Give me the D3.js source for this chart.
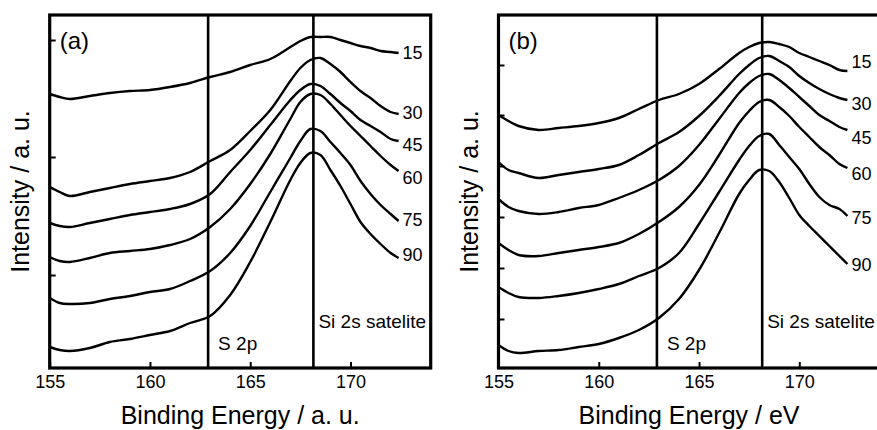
<!DOCTYPE html>
<html>
<head>
<meta charset="utf-8">
<script src="https://cdn.jsdelivr.net/npm/d3@7"></script>
<style>
  body { margin: 0; background: #fff; }
  text { font-family: "Liberation Sans", Arial, sans-serif; fill: #000; }
</style>
</head>
<body>
<script>
// binding energy grid (eV), shared by every spectrum
var energy = [155, 155.5, 156, 157, 158, 159, 160, 161, 162, 163, 164, 165, 166,
              167, 167.5, 168, 168.5, 169, 169.5, 170, 170.5, 171, 171.5, 172, 172.4];

var angles = ["15", "30", "45", "60", "75", "90"];

// panel (a) intensities, offset stacked, a.u.
var a15 = [274, 271, 269, 272, 275, 277, 278, 281, 285, 291, 296, 303, 309, 321, 327, 331, 331, 331, 328, 325, 322, 320, 317, 316, 315];
var a30 = [181, 176, 172, 176, 180, 184, 187, 190, 196, 207, 218, 237, 258, 287, 300, 308, 310, 304, 296, 286, 277, 270, 262, 256, 254];
var a45 = [145, 142, 141, 145, 149, 153, 156, 159, 164, 174, 196, 218, 243, 268, 278, 284, 282, 274, 265, 257, 248, 242, 236, 229, 227];
var a60 = [111, 107, 106, 110, 115, 117, 119, 123, 129, 141, 159, 184, 214, 249, 266, 274, 273, 264, 253, 242, 232, 222, 212, 203, 197];
var a75 = [70, 65, 64, 65, 69, 72, 76, 79, 87, 97, 115, 142, 176, 210, 227, 239, 237, 226, 215, 203, 187, 174, 163, 154, 147];
var a90 = [21, 18, 17, 20, 26, 29, 33, 37, 45, 52, 73, 106, 146, 188, 205, 215, 213, 198, 182, 164, 146, 134, 124, 115, 110];

// panel (b)
var b15 = [253, 247, 242, 238, 240, 242, 245, 250, 259, 268, 274, 284, 299, 315, 321, 325, 326, 324, 321, 315, 311, 307, 303, 298, 297];
var b30 = [206, 198, 195, 190, 193, 196, 199, 203, 213, 225, 236, 252, 272, 294, 303, 310, 312, 307, 301, 292, 285, 279, 274, 270, 268];
var b45 = [169, 161, 157, 154, 156, 160, 163, 170, 178, 188, 202, 223, 249, 275, 285, 292, 294, 288, 280, 271, 262, 253, 247, 241, 238];
var b60 = [125, 118, 113, 112, 115, 118, 121, 125, 134, 146, 161, 183, 213, 245, 257, 266, 268, 261, 252, 241, 231, 221, 213, 204, 200];
var b75 = [81, 75, 71, 70, 72, 75, 79, 84, 92, 100, 115, 144, 176, 208, 222, 232, 234, 223, 211, 199, 184, 171, 163, 159, 152];
var b90 = [23, 17, 15, 17, 18, 21, 24, 30, 38, 50, 69, 98, 135, 174, 188, 198, 197, 186, 170, 153, 142, 132, 122, 112, 104];

// where the angle labels sit (intensity units)
var labelLevelA = [315, 255, 223, 190, 148, 113];
var labelLevelB = [306, 264, 230, 194, 150, 103];

var xTicks = [155, 160, 165, 170];
var yTicksA = [93, 211, 328];
var yTicksB = [49, 100, 151, 202, 253, 303];

var lineS2p = 162.9, lineSi2s = 168.15;

var W = 877, H = 430;
var top_ = 15, bottom_ = 368, plotW = 381;

var svg = d3.select("body").append("svg")
    .attr("width", W)
    .attr("height", H);

function panel(x0, tag, xTitle, series, labelLevel, yTicks) {

    var x = d3.scaleLinear().domain([155, 174]).range([x0, x0 + plotW]);
    var y = d3.scaleLinear().domain([0, 353]).range([bottom_, top_]);

    var g = svg.append("g");

    // ticks (inward)
    var xAxis = d3.axisBottom(x).tickValues(xTicks).tickSizeInner(-6).tickSizeOuter(0).tickPadding(7);
    var gx = g.append("g").attr("transform", "translate(0," + bottom_ + ")").call(xAxis);
    gx.select(".domain").remove();
    gx.selectAll("line").attr("stroke", "#000").attr("stroke-width", 2);
    gx.selectAll("text").style("font-size", "18px").attr("fill", "#000");

    var yAxis = d3.axisLeft(y).tickValues(yTicks).tickSizeInner(-6).tickSizeOuter(0).tickFormat("");
    var gy = g.append("g").attr("transform", "translate(" + x0 + ",0)").call(yAxis);
    gy.select(".domain").remove();
    gy.selectAll("line").attr("stroke", "#000").attr("stroke-width", 2);

    // marker lines
    [lineS2p, lineSi2s].forEach(function(e) {
        g.append("line")
            .attr("x1", x(e)).attr("x2", x(e))
            .attr("y1", top_).attr("y2", bottom_)
            .attr("stroke", "#000").attr("stroke-width", 2.6);
    });

    var line = d3.line()
        .x(function(d, i) { return x(energy[i]); })
        .y(function(d) { return y(d); })
        .curve(d3.curveCatmullRom.alpha(0.5));

    series.forEach(function(s, j) {
        g.append("path")
            .datum(s)
            .attr("d", line)
            .attr("fill", "none")
            .attr("stroke", "#000")
            .attr("stroke-width", 2.4)
            .attr("stroke-linejoin", "round");

        g.append("text")
            .attr("x", x(energy[energy.length - 1]) + 4)
            .attr("y", y(labelLevel[j]))
            .attr("dy", "0.36em")
            .style("font-size", "18px")
            .text(angles[j]);
    });

    // frame
    g.append("rect")
        .attr("x", x0).attr("y", top_)
        .attr("width", plotW).attr("height", bottom_ - top_)
        .attr("fill", "none").attr("stroke", "#000").attr("stroke-width", 3.2);

    g.append("text")
        .attr("x", x(lineS2p) + 10).attr("y", 350)
        .style("font-size", "19px").text("S 2p");
    g.append("text")
        .attr("x", x(lineSi2s) + 5).attr("y", 328)
        .style("font-size", "19px").text("Si 2s satelite");

    g.append("text")
        .attr("x", x0 + 10).attr("y", 48.5)
        .style("font-size", "24px").text(tag);

    g.append("text")
        .attr("x", x0 + plotW / 2).attr("y", 424)
        .attr("text-anchor", "middle")
        .style("font-size", "25px").text(xTitle);

    g.append("text")
        .attr("transform", "translate(" + (x0 - 21) + "," + ((top_ + bottom_) / 2) + ") rotate(-90)")
        .attr("text-anchor", "middle")
        .style("font-size", "25px").text("Intensity / a. u.");
}

panel(49.7, "(a)", "Binding Energy / a. u.", [a15, a30, a45, a60, a75, a90], labelLevelA, yTicksA);
panel(498.5, "(b)", "Binding Energy / eV", [b15, b30, b45, b60, b75, b90], labelLevelB, yTicksB);
</script>
</body>
</html>
